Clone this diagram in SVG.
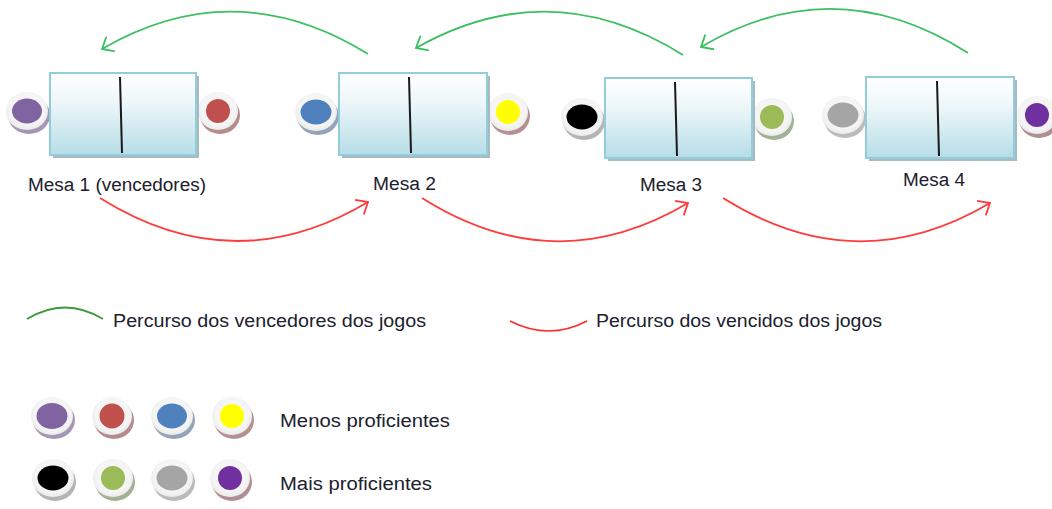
<svg xmlns="http://www.w3.org/2000/svg" width="1052" height="509" viewBox="0 0 1052 509">
<defs>
<linearGradient id="tg" x1="0" y1="0" x2="0" y2="1">
<stop offset="0" stop-color="#ffffff"/>
<stop offset="0.35" stop-color="#eef7f9"/>
<stop offset="1" stop-color="#b6dde7"/>
</linearGradient>
<radialGradient id="rg" cx="0.5" cy="0.45" r="0.55">
<stop offset="0.75" stop-color="#f5f5f5"/>
<stop offset="1" stop-color="#ebebeb"/>
</radialGradient>
<marker id="ag" markerUnits="userSpaceOnUse" viewBox="0 0 12 18" refX="10.5" refY="9" markerWidth="12" markerHeight="18" orient="auto">
<path d="M0.5,0.5 L10.5,9 L0.5,17.5" fill="none" stroke="#3cbf63" stroke-width="1.8"/>
</marker>
<marker id="ar" markerUnits="userSpaceOnUse" viewBox="0 0 12 18" refX="10.5" refY="9" markerWidth="12" markerHeight="18" orient="auto">
<path d="M0.5,0.5 L10.5,9 L0.5,17.5" fill="none" stroke="#ff3b3b" stroke-width="1.8"/>
</marker>
</defs>
<style>
.tbl{fill:url(#tg);stroke:#92cddc;stroke-width:2}
.tsh{fill:#a9b9bf}
.div{stroke:#1a1a1a;stroke-width:2}
.ring{fill:url(#rg)}
.lbl{font-family:"Liberation Sans",Arial,sans-serif;font-size:18px;fill:#20202e}
.g{fill:none;stroke:#3cbf63;stroke-width:1.8}
.r{fill:none;stroke:#ff3b3b;stroke-width:1.8}
</style>
<rect width="1052" height="509" fill="#ffffff"/>

<g id="tokens-tables">
<ellipse cx="29" cy="115" rx="21" ry="19" fill="#a596b4"/><ellipse class="ring" cx="27" cy="111" rx="21" ry="19"/><ellipse cx="27" cy="111" rx="15" ry="12.5" fill="#8064a2"/>
<ellipse cx="220" cy="115" rx="20" ry="19" fill="#b58c8c"/><ellipse class="ring" cx="218" cy="111" rx="20" ry="19"/><ellipse cx="218" cy="111" rx="12" ry="12" fill="#c0504d"/>
<ellipse cx="318" cy="116" rx="21" ry="19" fill="#93a4b8"/><ellipse class="ring" cx="316" cy="112" rx="21" ry="19"/><ellipse cx="316" cy="112" rx="15.5" ry="12.5" fill="#4f81bd"/>
<ellipse cx="510" cy="116" rx="20" ry="19" fill="#b59191"/><ellipse class="ring" cx="508" cy="112" rx="20" ry="19"/><ellipse cx="508" cy="112" rx="12" ry="12" fill="#ffff00"/>
<ellipse cx="584" cy="121" rx="21" ry="19" fill="#b4b4b4"/><ellipse class="ring" cx="582" cy="117" rx="21" ry="19"/><ellipse cx="582" cy="117" rx="15.5" ry="12.5" fill="#000000"/>
<ellipse cx="774" cy="121" rx="20" ry="19" fill="#a3b294"/><ellipse class="ring" cx="772" cy="117" rx="20" ry="19"/><ellipse cx="772" cy="117" rx="12" ry="12" fill="#9bbb59"/>
<ellipse cx="845" cy="119" rx="21" ry="19" fill="#bbbbbb"/><ellipse class="ring" cx="843" cy="115" rx="21" ry="19"/><ellipse cx="843" cy="115" rx="15.5" ry="12.5" fill="#a5a5a5"/>
<ellipse cx="1039" cy="119" rx="20" ry="19" fill="#b08f92"/><ellipse class="ring" cx="1037" cy="115" rx="20" ry="19"/><ellipse cx="1037" cy="115" rx="12" ry="12" fill="#7030a0"/>
</g>

<g id="mesa1">
<rect class="tsh" x="53" y="76" width="146" height="82"/>
<rect class="tbl" x="50" y="73" width="146" height="82"/>
<line class="div" x1="120" y1="77" x2="122" y2="153"/>
<text class="lbl" x="28" y="191" textLength="178" lengthAdjust="spacingAndGlyphs">Mesa 1 (vencedores)</text>
</g>
<g id="mesa2">
<rect class="tsh" x="342" y="76" width="148" height="82"/>
<rect class="tbl" x="339" y="73" width="148" height="82"/>
<line class="div" x1="409" y1="77" x2="411" y2="153"/>
<text class="lbl" x="373" y="190" textLength="63" lengthAdjust="spacingAndGlyphs">Mesa 2</text>
</g>
<g id="mesa3">
<rect class="tsh" x="608" y="81" width="147" height="80"/>
<rect class="tbl" x="605" y="78" width="147" height="80"/>
<line class="div" x1="675" y1="82" x2="677" y2="156"/>
<text class="lbl" x="640" y="191" textLength="62" lengthAdjust="spacingAndGlyphs">Mesa 3</text>
</g>
<g id="mesa4">
<rect class="tsh" x="869" y="80" width="148" height="81"/>
<rect class="tbl" x="866" y="77" width="148" height="81"/>
<line class="div" x1="937" y1="81" x2="939" y2="156"/>
<text class="lbl" x="903" y="186" textLength="62" lengthAdjust="spacingAndGlyphs">Mesa 4</text>
</g>

<g id="connectors">
<path class="g" d="M368,54 Q235,-28 102,49" marker-end="url(#ag)"/>
<path class="g" d="M683,55 Q550,-28 416,48" marker-end="url(#ag)"/>
<path class="g" d="M968,53 Q835,-32 701,47" marker-end="url(#ag)"/>
<path class="r" d="M100,198 Q234,282 368,202" marker-end="url(#ar)"/>
<path class="r" d="M422,198 Q555,282 688,203" marker-end="url(#ar)"/>
<path class="r" d="M723,198 Q857,282 990,203" marker-end="url(#ar)"/>
</g>

<g id="legend-paths">
<path d="M27,319 Q65,296 103,319" fill="none" stroke="#3a9a3a" stroke-width="1.8"/>
<text class="lbl" x="113" y="327" textLength="313" lengthAdjust="spacingAndGlyphs">Percurso dos vencedores dos jogos</text>
<path d="M510,321 Q549,341 587,321" fill="none" stroke="#ff2a2a" stroke-width="1.6"/>
<text class="lbl" x="596" y="327" textLength="286" lengthAdjust="spacingAndGlyphs">Percurso dos vencidos dos jogos</text>
</g>

<g id="legend-tokens">
<ellipse cx="54" cy="420" rx="21" ry="19" fill="#a596b4"/><ellipse class="ring" cx="52" cy="416" rx="21" ry="19"/><ellipse cx="52" cy="416" rx="15.5" ry="13" fill="#8064a2"/>
<ellipse cx="114" cy="420" rx="20" ry="19" fill="#b58c8c"/><ellipse class="ring" cx="112" cy="416" rx="20" ry="19"/><ellipse cx="112" cy="416" rx="12.5" ry="12.5" fill="#c0504d"/>
<ellipse cx="174" cy="420" rx="21" ry="19" fill="#93a4b8"/><ellipse class="ring" cx="172" cy="416" rx="21" ry="19"/><ellipse cx="172" cy="416" rx="15" ry="12.5" fill="#4f81bd"/>
<ellipse cx="234" cy="420" rx="20" ry="19" fill="#b59191"/><ellipse class="ring" cx="232" cy="416" rx="20" ry="19"/><ellipse cx="232" cy="416" rx="12" ry="12" fill="#ffff00"/>
<text class="lbl" x="280" y="427" textLength="170" lengthAdjust="spacingAndGlyphs">Menos proficientes</text>
<ellipse cx="55" cy="482" rx="21" ry="19" fill="#b4b4b4"/><ellipse class="ring" cx="53" cy="478" rx="21" ry="19"/><ellipse cx="53" cy="478" rx="15.5" ry="12.5" fill="#000000"/>
<ellipse cx="115" cy="482" rx="20" ry="19" fill="#a3b294"/><ellipse class="ring" cx="113" cy="478" rx="20" ry="19"/><ellipse cx="113" cy="478" rx="12" ry="12" fill="#9bbb59"/>
<ellipse cx="174" cy="482" rx="21" ry="19" fill="#bbbbbb"/><ellipse class="ring" cx="172" cy="478" rx="21" ry="19"/><ellipse cx="172" cy="478" rx="15.5" ry="12.5" fill="#a5a5a5"/>
<ellipse cx="232" cy="482" rx="20" ry="19" fill="#b08f92"/><ellipse class="ring" cx="230" cy="478" rx="20" ry="19"/><ellipse cx="230" cy="478" rx="12" ry="12" fill="#7030a0"/>
<text class="lbl" x="280" y="490" textLength="152" lengthAdjust="spacingAndGlyphs">Mais proficientes</text>
</g>
</svg>
